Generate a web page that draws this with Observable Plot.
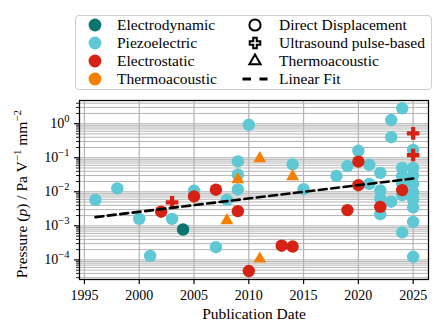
<!DOCTYPE html>
<html><head><meta charset="utf-8">
<script src="https://cdn.jsdelivr.net/npm/d3@7"></script>
<script src="https://cdn.jsdelivr.net/npm/@observablehq/plot@0.6"></script>
<style>
html,body{margin:0;padding:0;background:#fff;}
body{width:448px;height:336px;position:relative;overflow:hidden;font-family:"Liberation Serif","DejaVu Serif","Times New Roman",serif;color:#000;}
#legend{position:absolute;left:75px;top:15px;width:355px;height:73px;border:1.3px solid #cfcfcf;border-radius:4px;background:#fff;}
#legend svg{position:absolute;}
#legend span{position:absolute;font-size:15.5px;line-height:18px;white-space:nowrap;}
#chart{position:absolute;left:0;top:95px;}
#chart svg text{font-family:"Liberation Serif","DejaVu Serif","Times New Roman",serif;}
</style></head><body>
<div id="legend"></div>
<div id="chart"></div>
<script>
// ---- categories ----
const mechCodes = ["ED", "PZ", "ES", "TA"];
const mechNames = ["Electrodynamic", "Piezoelectric", "Electrostatic", "Thermoacoustic"];
const mechColors = ["#0a7470", "#5ec8d4", "#d52214", "#f77f00"];
const methodCodes = ["DD", "US", "TH"];
const methodNames = ["Direct Displacement", "Ultrasound pulse-based", "Thermoacoustic"];

// ---- data (publication year, pressure in Pa/V/mm^2, mechanism, method) ----
const years = [
  1996, 1998, 2000, 2001, 2003, 2005, 2007, 2008, 2009, 2009, 2009, 2010, 2014, 2015, 2018, 2019,
  2020, 2021, 2021, 2022, 2022, 2022, 2022, 2023, 2023, 2023, 2024, 2024, 2024, 2024, 2024, 2024,
  2025, 2025, 2025, 2025, 2025, 2025, 2025, 2025, 2025,
  2004,
  2002, 2005, 2007, 2009, 2010, 2013, 2014, 2019, 2020, 2020, 2022, 2024,
  2003, 2025, 2025,
  2008, 2009, 2011, 2011, 2014
];
const pressures = [
  0.0058, 0.0125, 0.0016, 0.00013, 0.0016, 0.0107, 0.000235, 0.0058, 0.078, 0.032, 0.0117, 0.93, 0.064, 0.012, 0.029, 0.057,
  0.16, 0.062, 0.017, 0.036, 0.011, 0.0063, 0.0022, 1.28, 0.40, 0.0051, 2.84, 0.05, 0.029, 0.017, 0.008, 0.00064,
  0.17, 0.05, 0.03, 0.017, 0.0095, 0.006, 0.0035, 0.0013, 0.000123,
  0.00078,
  0.0026, 0.0073, 0.0115, 0.0027, 0.000047, 0.00026, 0.000246, 0.0029, 0.077, 0.0156, 0.0036, 0.0112,
  0.0049, 0.52, 0.12,
  0.00144, 0.023, 0.095, 0.000107, 0.028
];
const mechanisms = [
  "PZ","PZ","PZ","PZ","PZ","PZ","PZ","PZ","PZ","PZ","PZ","PZ","PZ","PZ","PZ","PZ",
  "PZ","PZ","PZ","PZ","PZ","PZ","PZ","PZ","PZ","PZ","PZ","PZ","PZ","PZ","PZ","PZ",
  "PZ","PZ","PZ","PZ","PZ","PZ","PZ","PZ","PZ",
  "ED",
  "ES","ES","ES","ES","ES","ES","ES","ES","ES","ES","ES","ES",
  "ES","ES","ES",
  "TA","TA","TA","TA","TA"
];
const methods = [
  "DD","DD","DD","DD","DD","DD","DD","DD","DD","DD","DD","DD","DD","DD","DD","DD",
  "DD","DD","DD","DD","DD","DD","DD","DD","DD","DD","DD","DD","DD","DD","DD","DD",
  "DD","DD","DD","DD","DD","DD","DD","DD","DD",
  "DD",
  "DD","DD","DD","DD","DD","DD","DD","DD","DD","DD","DD","DD",
  "US","US","US",
  "TH","TH","TH","TH","TH"
];

// ---- linear fit (log-linear) endpoints ----
const fitYears = [1996, 2025];
const fitPressures = [0.0018, 0.0245];

// ---- axes ----
const xTicks = [1995, 2000, 2005, 2010, 2015, 2020, 2025];
const yTicks = [1e-4, 1e-3, 1e-2, 1e-1, 1];
const yDecades = [1e-5, 1e-4, 1e-3, 1e-2, 1e-1, 1];
const minorMultipliers = [2, 3, 4, 5, 6, 7, 8, 9];
const xDomain = [1994.55, 2026.4];
const yDomain = [2.65e-5, 4.8];

const FONT = "'Liberation Serif', 'DejaVu Serif', 'Times New Roman', serif";
const data = years.map((y, i) => ({year: y, p: pressures[i], mech: mechanisms[i], method: methods[i]}));
const order = {PZ: 0, ED: 1, ES: 2, TA: 3};
const circles = data.filter(d => d.method === "DD").sort((a, b) => order[a.mech] - order[b.mech]);
const crosses = data.filter(d => d.method === "US");
const triangles = data.filter(d => d.method === "TH");
const fit = fitYears.map((y, i) => ({year: y, p: fitPressures[i]}));
const yMinor = yDecades.flatMap(d => minorMultipliers.map(m => m * d)).filter(v => v > yDomain[0] && v < yDomain[1]);
const yAll = yTicks.concat(yMinor);

const gridColor = "#b4b4b4";
const plot = Plot.plot({
  width: 448, height: 241,
  marginTop: 5, marginBottom: 57, marginLeft: 79, marginRight: 20,
  style: {fontFamily: FONT, fontSize: "14px", background: "transparent", color: "#000"},
  x: {domain: xDomain},
  y: {type: "log", domain: yDomain},
  color: {domain: mechCodes, range: mechColors},
  marks: [
    Plot.gridY(yAll, {stroke: gridColor, strokeOpacity: 1, strokeWidth: 1}),
    Plot.gridX(xTicks, {stroke: gridColor, strokeOpacity: 1, strokeWidth: 1.2}),
    Plot.dot(circles, {x: "year", y: "p", fill: "mech", r: 6.2, symbol: "circle"}),
    Plot.dot(crosses, {x: "year", y: "p", fill: "mech", r: 5.3, symbol: "cross"}),
    Plot.dot(triangles, {x: "year", y: "p", fill: "mech", r: 4.8, symbol: "triangle"}),
    Plot.line(fit, {x: "year", y: "p", stroke: "black", strokeWidth: 2.6, strokeDasharray: "8,4.5"}),
    Plot.frame({stroke: "black", strokeWidth: 1.25}),
    Plot.axisX(xTicks, {tickSize: 5, tickPadding: 6, tickFormat: d => String(d), label: null, stroke: "black", strokeWidth: 1.2, fill: "black", fontSize: 14}),
    Plot.axisY(yTicks, {tickSize: 5, tickPadding: 5, tickFormat: d => "10|" + String(Math.round(Math.log10(d))).replace("-", "\u2212"), label: null, stroke: "black", strokeWidth: 1.2, fill: "black", fontSize: 14}),
    Plot.axisY(yMinor, {tickSize: 3, tickFormat: () => "", label: null, stroke: "black", strokeWidth: 0.9})
  ]
});
document.getElementById("chart").appendChild(plot);

const svg = d3.select(plot);
// superscript exponents on the y tick labels
svg.selectAll("text").each(function() {
  const m = /^10\|(.+)$/.exec(this.textContent);
  if (m) {
    const t = d3.select(this);
    t.text("");
    t.append("tspan").text("10");
    t.append("tspan").attr("dy", "-6").attr("font-size", "10.5px").text(m[1]);
  }
});
// axis titles
svg.append("text").attr("x", 254).attr("y", 224).attr("text-anchor", "middle")
  .attr("font-size", "15.5px").attr("fill", "black").text("Publication Date");
const yl = svg.append("text").attr("transform", "translate(26.5,99) rotate(-90)")
  .attr("text-anchor", "middle").attr("font-size", "15.5px").attr("fill", "black");
yl.append("tspan").text("Pressure (");
yl.append("tspan").attr("font-style", "italic").text("p");
yl.append("tspan").text(") / Pa V");
yl.append("tspan").attr("dy", "-6").attr("font-size", "11px").text("\u22121");
yl.append("tspan").attr("dy", "6").text(" mm");
yl.append("tspan").attr("dy", "-6").attr("font-size", "11px").text("\u22122");

// ---- legend ----
const legend = d3.select("#legend");
const rowY = [9.2, 27.2, 45.2, 63.2];
const col1 = 18.7, col2 = 178.7, text1 = 41, text2 = 203;
function swatch(cx, cy, draw) {
  const s = legend.append("svg").attr("width", 30).attr("height", 18)
    .style("left", (cx - 15) + "px").style("top", (cy - 9) + "px");
  draw(s.append("g").attr("transform", "translate(15,9)"));
}
function label(x, cy, txt) {
  legend.append("span").style("left", x + "px").style("top", (cy - 9.5) + "px").text(txt);
}
mechNames.forEach((n, i) => {
  swatch(col1, rowY[i], g => g.append("circle").attr("r", 6.4).attr("fill", mechColors[i]));
  label(text1, rowY[i], n);
});
swatch(col2, rowY[0], g => g.append("circle").attr("r", 5.6).attr("fill", "white").attr("stroke", "black").attr("stroke-width", 2));
label(text2, rowY[0], methodNames[0]);
swatch(col2, rowY[1], g => g.append("path").attr("d", d3.symbol(d3.symbolCross, 62)()).attr("fill", "white").attr("stroke", "black").attr("stroke-width", 2));
label(text2, rowY[1], methodNames[1]);
swatch(col2, rowY[2], g => g.append("path").attr("d", d3.symbol(d3.symbolTriangle, 55)()).attr("fill", "white").attr("stroke", "black").attr("stroke-width", 2).attr("stroke-linejoin", "miter"));
label(text2, rowY[2], methodNames[2]);
swatch(col2, rowY[3], g => g.append("line").attr("x1", -12.5).attr("x2", 12.5).attr("stroke", "black").attr("stroke-width", 3).attr("stroke-dasharray", "8.5,8.5"));
label(text2, rowY[3], "Linear Fit");
</script></body></html>
